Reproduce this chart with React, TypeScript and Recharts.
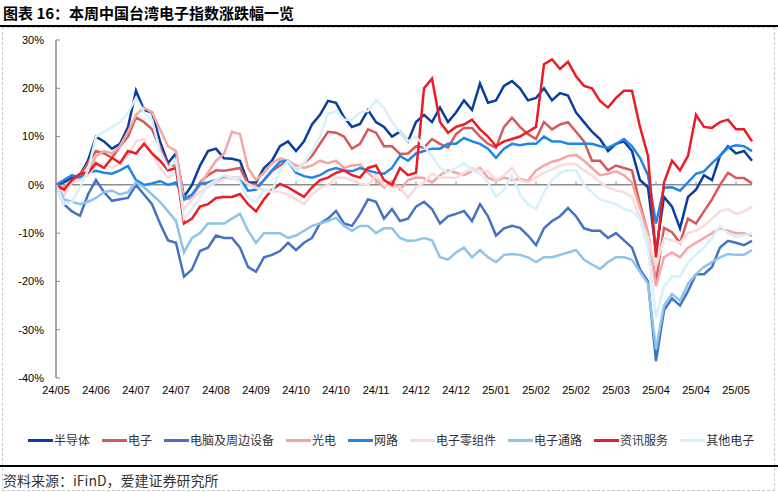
import { LineChart, Line, XAxis, YAxis, ReferenceLine } from "recharts";

// 每个点约为 3 个交易日，每 5 个点一个月份标签
const tickLabels = [
  "24/05", "24/06", "24/07", "24/07", "24/08", "24/09", "24/10", "24/10", "24/11",
  "24/12", "24/12", "25/01", "25/02", "25/02", "25/03", "25/04", "25/04", "25/05",
];
const tickIdx = [0, 5, 10, 15, 20, 25, 30, 35, 40, 45, 50, 55, 60, 65, 70, 75, 80, 85];
const yTicks = [-40, -30, -20, -10, 0, 10, 20, 30];

const semis = [
  0, 0.5, 1.5, 2, 5, 10, 9, 7.5, 8.5, 12,
  19.5, 15.5, 15, 9, 4.5, 6.5, -2.5, 0, 4, 7,
  7.5, 5.5, 5.4, 5, 0.5, 0.5, 3.5, 5, 8, 9,
  7, 9, 12.5, 14.5, 17.4, 17, 14, 12, 12.6, 15.5,
  13, 12, 10, 11, 9, 13, 14.5, 13, 16, 13,
  15, 17.5, 15.5, 21, 17, 17.5, 20.5, 21.5, 20, 17.5,
  18, 20, 17.5, 19, 18.5, 15, 13, 11, 9.5, 7,
  8.5, 9, 7, 1, -0.5, -14, -2.5, -4.5, -9, -2.5,
  -1, 2, 1, 6, 8, 6.5, 7, 5,
];
const elec = [
  0, -2, 1, 2, 4.5, 7, 6.5, 5.6, 8, 10,
  14, 13, 11.5, 7.7, 4, 4, -3, -2.7, 0.5, 2,
  3, 2.9, 3.2, 3.5, 0.2, -0.6, 1, 2.9, 4, 5,
  3, 4.5, 6, 8.5, 11, 10.8, 10, 7.5, 8.5, 11.5,
  10.8, 8, 8, 6.4, 6.5, 8, 7.7, 9.5, 8.5, 7.7,
  10.5, 11.8, 11.8, 10, 8.5, 7.7, 12, 13.9, 12, 10.5,
  9.5, 13, 11.5, 12.5, 13, 11, 9, 5, 5, 3,
  4, 3.5, 3, -4, -10, -20, -8.9, -9.8, -12, -7,
  -8, -5.5, -3, 0, 2.5, 1.4, 1.4, 0.3,
];
const pc = [
  0, -4, -5.5, -6.4, -2, 1, -1.5, -3.3, -3, -2.7,
  0, -2, -4, -8, -11.5, -12, -19, -17.5, -13.7, -13,
  -10.5, -11, -11, -13, -17, -18, -15, -14.5, -13.7, -12,
  -13.5, -12, -11, -8, -7, -5.4, -8, -8.5, -6, -3,
  -3.5, -7, -5, -7.5, -7, -4.5, -3.5, -5, -8, -6.5,
  -6, -5.4, -7.5, -4, -6.5, -10.5, -9, -8.5, -8.9, -10.5,
  -12.5, -9, -7.5, -6.5, -4.8, -6.5, -9, -9.5, -9.5, -11,
  -10, -11.5, -13, -17.5, -20, -36.5, -26, -23.5, -25, -22,
  -18.5, -18.5, -17, -13, -11.6, -12, -12.5, -11.6,
];
const opto = [
  0, -0.5, 1, 1.5, 2.5, 6, 7, 6.5, 8, 11,
  14.5, 16, 15, 11.5, 8, 7, -3, -2.5, 0, 2.5,
  5, 6.4, 11, 10.5, 3.5, 1, 2.5, 4.5, 5.5, 5,
  4, 3.5, 4, 5, 4.5, 5, 3.5, 4, 4.2, 2.5,
  1, -0.5, 0.8, -1, 1, 1.5, 1.4, 0.5, 2, 3,
  2.5, 2, 2.8, 3.5, 1.5, 0.8, 1.5, 1, 1.2, 0.8,
  3, 4, 4.8, 5.2, 6, 6.2, 5, 3.5, 2, 2.3,
  2.8, 2, 0.5, -4.8, -10, -21, -15, -14, -15, -13,
  -12, -11, -10, -9, -9.5, -10, -10, -10.6,
];
const net = [
  0, 1, 2, 1.5, 2.5, 2.9, 2.5, 2.3, 3, 3.9,
  1, 0, 0.3, 0.8, 0, 0.5, -3, -2, 0.2, 0.5,
  1, 1.4, 1.4, 1.4, -1.2, -1, 1, 3, 4.8, 5,
  2.5, 1.8, 1.5, 2, 3, 3.5, 3, 2.8, 3.5, 3,
  2.5, 2.3, 3.5, 6, 5, 6.5, 7, 7.5, 7.5, 8.5,
  8.5, 9.7, 9, 8.5, 7.5, 5.6, 7.5, 8.5, 8.2, 8.5,
  8.5, 10, 9, 9, 8.5, 8.5, 8.5, 8.5, 8, 7.7,
  8.5, 9.5, 8, 5.6, 2, -8, -0.6, -0.5, -1.2, 0.5,
  2.3, 2.8, 4.5, 6, 7.7, 8.2, 8, 7,
];
const comp = [
  0, -2, 0.5, 1, 2, 4, 4.3, 3.5, 4.3, 6,
  9, 9.5, 6.5, 3.5, 1.5, 2.5, -5, -3, -1.5, -0.5,
  0.5, 1.2, 1.5, 1.4, 0.2, -0.6, -1, -1.2, -1.5, -2,
  -3, -4, -2, -0.6, 0, 1.4, 1.5, 1, 0.2, 0,
  2, 0, -0.5, -0.6, -2.7, -0.5, 0.5, 2.3, 1.5, 1.5,
  1.4, 2.5, 3.5, 3, 2.8, 1, 2, 3.5, 1, 0.5,
  1.5, 2.5, 3.2, 4, 4.3, 4.3, 3, 2, 0.5, -0.5,
  -1.2, -1.5, -2.5, -7, -11, -17, -11, -11.5, -12, -10,
  -9.5, -8.5, -7, -5.5, -5, -6, -5.5, -4.5,
];
const dist = [
  0, -3, -3.5, -4, -3.5, -2.7, -1.5, -1.2, -2, -1.5,
  0.5, -0.5, -2, -3.5, -5.5, -7.5, -14, -11, -10, -8,
  -8, -8, -7, -6, -9.5, -12, -10, -10, -10, -11,
  -10.5, -9.5, -8.5, -8, -7.5, -6.8, -8.5, -9.5, -8.5, -8.5,
  -10, -9, -9, -11, -11.6, -11.5, -11, -11.5, -15, -15.5,
  -14, -13, -15, -13.5, -15, -16, -14.5, -14.3, -14.5, -15,
  -16, -15, -15, -14.5, -14, -13.5, -15.5, -16.5, -17.4, -16,
  -15, -15, -15.5, -18, -20.5, -34, -25, -22.6, -24, -20.5,
  -18.5, -17, -16, -15, -14.3, -14.5, -14.5, -13.5,
];
const info = [
  0, -1, 1, 2.3, 2.5, 4.5, 3.5, 5.6, 4.5, 7,
  6.5, 8.5, 6.5, 5, 3, 3.5, -8, -7, -4.5, -4,
  -2.7, -2.5, -2.5, -1.9, -4, -5.5, -3, -1, 0.2, -0.5,
  -1.5, -2.5, -0.5, 1, 1.5, 2.5, 3, 2, 1.5, 3.5,
  4, 1, 0, 3.5, 2, 2.5, 20, 22, 13, 10.8,
  12, 12.5, 13.5, 11.5, 10, 8, 9, 9.5, 10, 11,
  12, 25, 26, 24, 25.5, 22.5, 20.5, 20, 17.4, 16,
  18, 19.5, 19.5, 12, 6, -15, 0.5, 5, 3, 6,
  14.5, 12, 11.8, 13, 13.5, 11.5, 11.5, 9,
];
const other = [
  0, -4, -3.5, -0.5, 3, 10, 11, 12, 13, 15,
  18, 15, 13.5, 7, 3.5, 5, -7, -5, -2.7, 0,
  1, 2, 1.5, 0.5, -2.7, -3.5, -1, -1.5, 3, 5,
  3, 4.5, 7, 10, 14.7, 15.3, 13.5, 13.5, 15, 15.3,
  17.5, 16, 13, 11, 9, 10, 8, 6, 3.5, 2.5,
  3.5, 4.5, 3, 2.3, 0.5, -2.5, -1, 2, -2, -4,
  -5, -1.5, 1, 2.5, 3, 3, 0, -1.5, -3, -3.5,
  -4, -5, -5.5, -7, -13, -27.5, -21, -19, -19, -16,
  -14.5, -13, -11, -8.5, -10, -10.8, -10.5, -10,
];

const series = [
  { key: "semis", name: "半导体", color: "#0b3d9c", values: semis },
  { key: "elec", name: "电子", color: "#d65a5a", values: elec },
  { key: "pc", name: "电脑及周边设备", color: "#4472c4", values: pc },
  { key: "opto", name: "光电", color: "#f4a6a6", values: opto },
  { key: "net", name: "网路", color: "#1f86e8", values: net },
  { key: "comp", name: "电子零组件", color: "#fbdadd", values: comp },
  { key: "dist", name: "电子通路", color: "#8cc4ec", values: dist },
  { key: "info", name: "资讯服务", color: "#ec1c24", values: info },
  { key: "other", name: "其他电子", color: "#d6f0fc", values: other },
];

const rows = semis.map((_, i) => {
  const row: Record<string, number> = { i };
  series.forEach((s) => (row[s.key] = s.values[i]));
  return row;
});

const cjk = '"Noto Sans CJK SC", "Noto Sans", sans-serif';
const latin = '"Liberation Sans", Arial, sans-serif';
const axisGray = "#8c8c8c";

export default function App() {
  return (
    <div
      style={{
        position: "absolute",
        left: 0,
        top: 0,
        width: 778,
        height: 492,
        background: "#fff",
        fontFamily: cjk,
        overflow: "hidden",
      }}
    >
      <div
        style={{
          position: "absolute",
          left: 3,
          top: 2,
          fontSize: 15,
          fontWeight: 700,
          lineHeight: "22px",
          color: "#000",
        }}
      >
        图表 16：本周中国台湾电子指数涨跌幅一览
      </div>
      <div style={{ position: "absolute", left: 0, top: 25, width: 778, height: 2, background: "#000" }} />
      <div
        style={{
          position: "absolute",
          left: 2,
          top: 27,
          width: 771,
          height: 462,
          border: "1px dashed #c8c8c8",
        }}
      />

      <div style={{ position: "absolute", left: 0, top: 0 }}>
        <LineChart
          width={778}
          height={420}
          data={rows}
          margin={{ top: 40, right: 26, bottom: 12, left: 0 }}
        >
          <XAxis
            type="number"
            dataKey="i"
            domain={[0, 87]}
            ticks={tickIdx}
            interval={0}
            tickFormatter={(v: number) => tickLabels[v / 5]}
            axisLine={false}
            tickLine={false}
            height={30}
            tick={{ fontSize: 11, fill: "#000", fontFamily: latin }}
          />
          <YAxis
            domain={[-40, 30]}
            ticks={yTicks}
            interval={0}
            width={56}
            tickFormatter={(v: number) => `${v}%`}
            axisLine={{ stroke: axisGray, strokeWidth: 1.5 }}
            tickLine={false}
            tickSize={4}
            tickMargin={8}
            tick={{ fontSize: 11, fill: "#000", fontFamily: latin }}
          />
          {/* 纵轴内侧刻度 */}
          {yTicks.map((t) => (
            <ReferenceLine
              key={`yt${t}`}
              segment={[{ x: 0, y: t }, { x: 0.5, y: t }]}
              stroke={axisGray}
              strokeWidth={1}
            />
          ))}
          <ReferenceLine y={0} stroke={axisGray} strokeWidth={1.5} />
          {/* 零轴上的月份刻度 */}
          {tickIdx.slice(1).map((t) => (
            <ReferenceLine
              key={`xt${t}`}
              segment={[{ x: t, y: 0 }, { x: t, y: 0.7 }]}
              stroke={axisGray}
              strokeWidth={1}
            />
          ))}
          {series.map((s) => (
            <Line
              key={s.key}
              type="linear"
              dataKey={s.key}
              name={s.name}
              stroke={s.color}
              strokeWidth={2.5}
              dot={false}
              isAnimationActive={false}
            />
          ))}
        </LineChart>
      </div>

      <div
        style={{
          position: "absolute",
          left: 28,
          top: 431,
          display: "flex",
          alignItems: "center",
          gap: 12,
          fontSize: 12,
          color: "#333",
          lineHeight: "18px",
        }}
      >
        {series.map((s) => (
          <div key={s.key} style={{ display: "flex", alignItems: "center" }}>
            <div style={{ width: 25, height: 3, background: s.color, marginRight: 1 }} />
            <span>{s.name}</span>
          </div>
        ))}
      </div>

      <div style={{ position: "absolute", left: 0, top: 465, width: 778, height: 2, background: "#000" }} />
      <div
        style={{
          position: "absolute",
          left: 3,
          top: 469,
          fontSize: 14,
          lineHeight: "22px",
          color: "#333",
        }}
      >
        资料来源：iFinD，爱建证券研究所
      </div>
    </div>
  );
}
